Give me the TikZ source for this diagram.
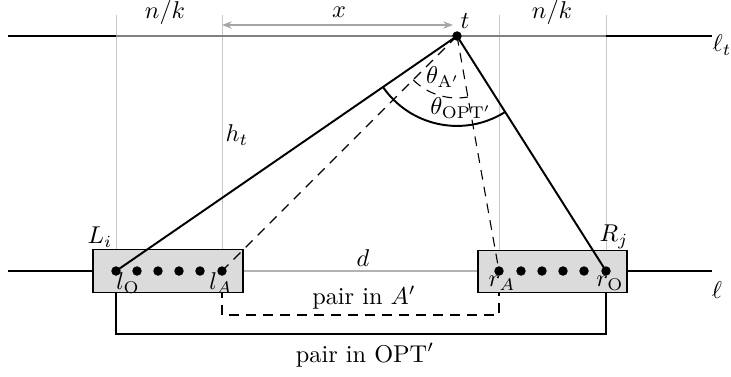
\documentclass[tikz,border=0pt]{standalone}
\usetikzlibrary{angles,arrows.meta}
\begin{document}
\begin{tikzpicture}[x=0.4115pt,y=-0.4115pt,
  dot/.style={circle,fill=black,inner sep=0pt,minimum size=3.9pt},
  guide/.style={black!22,line width=0.4pt},
  mainline/.style={line width=0.8pt},
  thinline/.style={line width=0.5pt},
  dashline/.style={dash pattern=on 4pt off 3pt,line width=0.45pt},
  boxst/.style={draw=black,fill=black!14,line width=0.5pt,inner sep=0pt},
  lbl/.style={inner sep=1pt}]
\useasboundingbox (0,0) rectangle (731,376);
% guides
\draw[guide] (116,15) -- (116,271);
\draw[guide] (222,15) -- (222,271);
\draw[guide] (499,15) -- (499,271);
\draw[guide] (606,15) -- (606,271);
% line l_t
\coordinate (ltL) at (8,36);
\coordinate (ltR) at (712,36);
\draw[mainline] (ltL) -- (116,36);
\draw[line width=0.8pt,black!50] (116,36) -- (606,36);
\draw[mainline] (606,36) -- (ltR);
% line l
\coordinate (lL) at (8,271);
\coordinate (lR) at (712,271);
\draw[mainline] (lL) -- (116,271);
\draw[line width=0.6pt,black!30] (222,271) -- (499,271);
\draw[mainline] (606,271) -- (lR);
% points
\coordinate (t) at (457,36);
\node[dot] (lO) at (116,271) {};
\node[dot] (lA) at (222,271) {};
\node[dot] (rA) at (499,271) {};
\node[dot] (rO) at (606,271) {};
% pair paths (behind boxes)
\draw[thinline] (lO.center) -- (116,334) -| (rO.center);
\draw[dashline] (lA.center) -- (222,315) -| (rA.center);
% boxes
\node[boxst,minimum width=61.7pt,minimum height=17.4pt] (Lbox) at (168,271) {};
\node[boxst,minimum width=61.3pt,minimum height=17.4pt] (Rbox) at (552.5,271.5) {};
% dots on top of boxes
\node[dot] at (lO) {};
\node[dot] at (lA) {};
\node[dot] at (rA) {};
\node[dot] at (rO) {};
\foreach \xx in {137,158,179,200} \node[dot] at (\xx,271) {};
\foreach \xx in {521,542,563,584} \node[dot] at (\xx,271) {};
% rays from t
\draw[mainline] (t) -- (lO.center);
\draw[mainline] (t) -- (rO.center);
\draw[dashline] (t) -- (lA.center);
\draw[dashline] (t) -- (rA.center);
% angles
\pic[draw,line width=0.8pt,angle radius=37pt] {angle=lO--t--rO};
\pic[draw,dashline,angle radius=25.5pt] {angle=lA--t--rA};
\node[dot] (tdot) at (t) {};
% x arrow
\draw[{Stealth[length=4pt,width=3pt]}-{Stealth[length=4pt,width=3pt]},black!35,line width=0.6pt] (222,25) -- (453,25);
% labels
\node[lbl] at (165,12) {$n/k$};
\node[lbl] at (552,12) {$n/k$};
\node[lbl] at (339,12) {$x$};
\node[lbl] at (465,21) {$t$};
\node[lbl] at (722,45) {$\ell_t$};
\node[lbl] at (717,290) {$\ell$};
\node[lbl] at (237,135) {$h_t$};
\node[lbl] at (443,77) {$\theta_{\mathrm{A}'}$};
\node[lbl] at (461,108) {$\theta_{\mathrm{OPT}'}$};
\node[lbl] at (100,237) {$L_i$};
\node[lbl] at (614,237) {$R_j$};
\node[lbl] at (128,283) {$l_{\mathrm{O}}$};
\node[lbl] at (221,283) {$l_A$};
\node[lbl] at (502,283) {$r_A$};
\node[lbl] at (610,283) {$r_{\mathrm{O}}$};
\node[lbl] at (363,258) {$d$};
\node[lbl] at (364,298) {pair in $A'$};
\node[lbl] at (365,355) {pair in $\mathrm{OPT}'$};
\end{tikzpicture}
\end{document}
